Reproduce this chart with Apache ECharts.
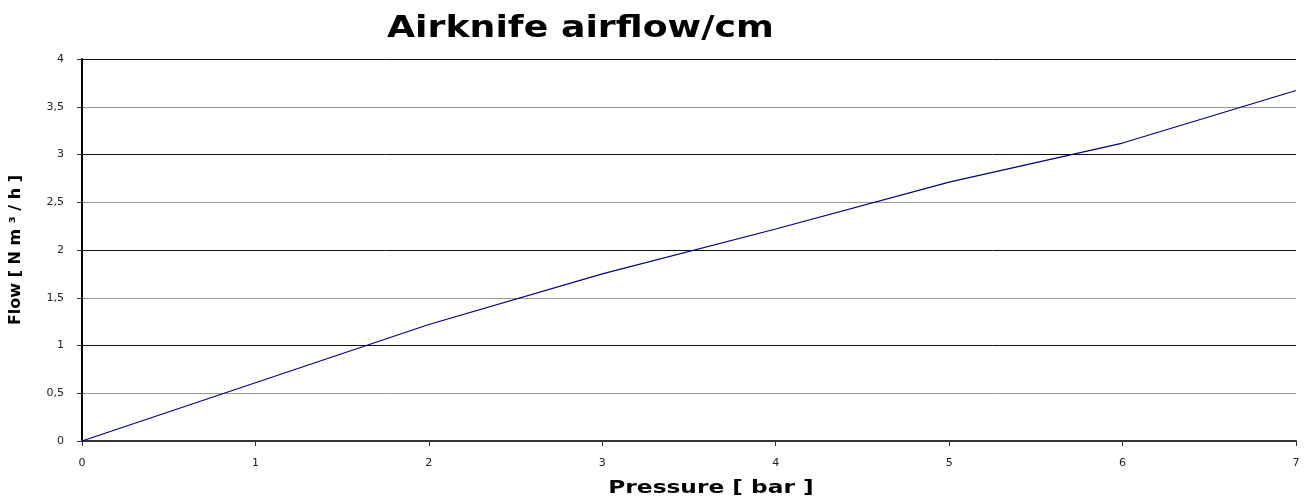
<!DOCTYPE html>
<html>
<head>
<meta charset="utf-8">
<script src="https://cdn.jsdelivr.net/npm/echarts@6/dist/echarts.min.js"></script>
<style>
html,body{margin:0;padding:0;background:#fff;}
#chart{width:1311px;height:501px;}
</style>
</head>
<body>
<div id="chart"></div>
<script>
const pressure = [0, 1, 2, 3, 4, 5, 6, 7];
const flow = [0, 0.61, 1.22, 1.75, 2.22, 2.71, 3.12, 3.67];
const titleText = 'Airknife airflow/cm';
const xName = 'Pressure [ bar ]';
const yName = 'Flow [ N m ³ / h ]';

const chart = echarts.init(document.getElementById('chart'));
chart.setOption({
  animation: false,
  graphic: [
    { type: 'text', x: 387, y: 29, scaleX: 1.21,
      style: { text: titleText, font: 'bold 30px "DejaVu Sans"', fill: '#000', align: 'left', verticalAlign: 'middle' } },
    { type: 'text', x: 711, y: 489, scaleX: 1.37,
      style: { text: xName, font: 'bold 17px "DejaVu Sans"', fill: '#000', align: 'center', verticalAlign: 'middle' } }
  ],
  grid: { left: 80, right: 15, top: 59, bottom: 60, containLabel: false },
  xAxis: {
    type: 'value', min: 0, max: 7, interval: 1,
    axisLine: { lineStyle: { color: '#333', width: 2 } },
    axisTick: { show: true, length: 5, lineStyle: { color: '#333' } },
    axisLabel: { fontFamily: 'DejaVu Sans', fontSize: 11, color: '#222', margin: 17,
      formatter: v => String(v).replace('.', ',') },
    splitLine: { show: false }
  },
  yAxis: {
    type: 'value', min: 0, max: 4, interval: 0.5,
    name: yName, nameLocation: 'middle', nameGap: 58, nameRotate: 90,
    nameTextStyle: { fontFamily: 'DejaVu Sans', fontWeight: 'bold', fontSize: 16, color: '#000' },
    axisLine: { show: true, lineStyle: { color: '#000', width: 2 } },
    axisTick: { show: true, length: 5, lineStyle: { color: '#333' } },
    axisLabel: { fontFamily: 'DejaVu Sans', fontSize: 11, color: '#222', margin: 18,
      formatter: v => String(v).replace('.', ',') },
    splitLine: { show: true, showMinLine: true, lineStyle: { color: ['#111', '#999'], width: 1 } }
  },
  series: [{
    type: 'line', data: pressure.map((p, i) => [p, flow[i]]),
    showSymbol: false, symbol: 'none',
    lineStyle: { color: '#000080', width: 1.2 }
  }]
});
</script>
</body>
</html>
